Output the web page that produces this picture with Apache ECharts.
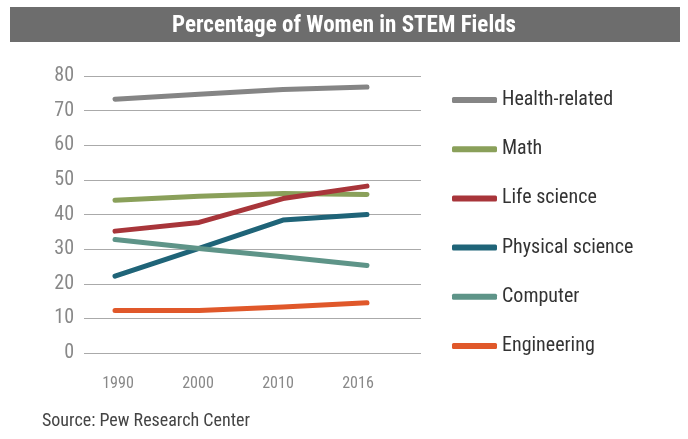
<!DOCTYPE html>
<html><head><meta charset="utf-8">
<script src="https://cdn.jsdelivr.net/npm/echarts@6/dist/echarts.min.js"></script>
<style>html,body{margin:0;padding:0;background:#fff;}#c{width:688px;height:439px;}</style>
</head><body><div id="c"></div>
<script>
const years = ['1990', '2000', '2010', '2016'];
const yTicks = [0, 10, 20, 30, 40, 50, 60, 70, 80];
const health = [73.3, 74.7, 76.1, 76.8];
const math = [44.1, 45.3, 46.1, 45.8];
const lifeScience = [35.2, 37.7, 44.6, 48.2];
const physicalScience = [22.2, 30.2, 38.4, 40.0];
const computer = [32.8, 30.2, 27.8, 25.3];
const engineering = [12.3, 12.3, 13.3, 14.5];
const seriesNames = ['Health-related', 'Math', 'Life science', 'Physical science', 'Computer', 'Engineering'];
const seriesData = [health, math, lifeScience, physicalScience, computer, engineering];
const colors = ['#858585', '#8aa05a', '#a8353a', '#1f6478', '#5e9488', '#e0582a'];

const FONT = "'Liberation Sans Narrow', 'Roboto Condensed', 'Arial Narrow', sans-serif";
const chart = echarts.init(document.getElementById('c'), null, {renderer: 'canvas'});
const gTop = 76, gBottom = 86;
chart.setOption({
  animation: false,
  title: {
    text: 'Percentage of Women in STEM Fields',
    left: 'center', top: 10,
    textStyle: {color: '#fff', fontSize: 23, fontWeight: 'bold', fontFamily: FONT}
  },
  graphic: [{
    type: 'rect', z: -1, left: 10, top: 7, shape: {width: 670, height: 35},
    style: {fill: '#6d6d6d'}
  }, {
    type: 'text', left: 42, top: 412,
    style: {text: 'Source: Pew Research Center', fill: '#444', font: '18px ' + FONT}
  }],
  legend: {
    orient: 'vertical', left: 447, top: 85, itemGap: 29.2,
    itemWidth: 45, itemHeight: 6,
    icon: 'roundRect',
    textStyle: {color: '#333', fontSize: 20, fontFamily: FONT},
    data: seriesNames
  },
  grid: [
    {left: 84, right: 267, top: gTop, bottom: gBottom},
    {left: 115, right: 321, top: gTop, bottom: gBottom},
    {left: 118, right: 330, top: gTop, bottom: gBottom}
  ],
  xAxis: [
    {gridIndex: 0, type: 'category', data: years, show: false},
    {gridIndex: 1, type: 'category', data: years, boundaryGap: false, show: false},
    {gridIndex: 2, type: 'category', data: years, boundaryGap: false,
      axisLine: {show: false}, axisTick: {show: false},
      axisLabel: {color: '#888', fontSize: 16, fontFamily: FONT, margin: 23}}
  ],
  yAxis: [
    {gridIndex: 0, type: 'value', min: yTicks[0], max: yTicks[yTicks.length - 1], interval: 10,
      axisLine: {show: false}, axisTick: {show: false},
      axisLabel: {color: '#888', fontSize: 20, fontFamily: FONT, margin: 10},
      splitLine: {lineStyle: {color: '#aaa', width: 1}}},
    {gridIndex: 1, type: 'value', min: 0, max: 80, show: false, splitLine: {show: false}},
    {gridIndex: 2, type: 'value', min: 0, max: 80, show: false, splitLine: {show: false}}
  ],
  series: seriesNames.map((n, i) => ({
    name: n, type: 'line', xAxisIndex: 1, yAxisIndex: 1,
    data: seriesData[i], showSymbol: false, symbol: 'none',
    color: colors[i],
    lineStyle: {width: 5, color: colors[i], cap: 'round', join: 'round'}
  }))
});
</script></body></html>
